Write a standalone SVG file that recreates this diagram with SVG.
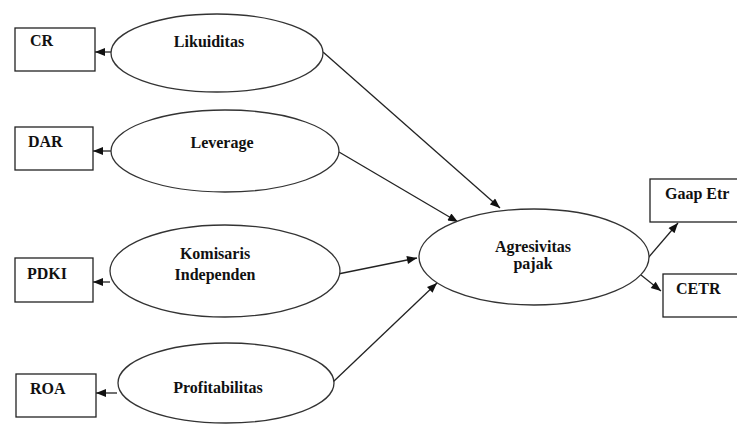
<svg xmlns="http://www.w3.org/2000/svg" width="737" height="425" viewBox="0 0 737 425">
<style>
.box{fill:#fff;stroke:#222;stroke-width:1.3}
.ell{fill:#fff;stroke:#333;stroke-width:1.3}
.t{font-family:"Liberation Serif","Times New Roman",serif;font-weight:bold;font-size:16px;fill:#111}
.c{stroke:#222;stroke-width:1.3;fill:none;marker-end:url(#ah)}
</style>
<defs>
<marker id="ah" viewBox="0 0 10 8" refX="10" refY="4" markerWidth="11" markerHeight="8" markerUnits="userSpaceOnUse" orient="auto">
<path d="M0,0 L10,4 L0,8 Z" fill="#111"/>
</marker>
</defs>
<rect width="737" height="425" fill="#fff"/>
<g id="connectors">
<line class="c" x1="111" y1="52" x2="95" y2="52"/>
<line class="c" x1="111" y1="151" x2="93" y2="151"/>
<line class="c" x1="110" y1="282" x2="93" y2="282"/>
<line class="c" x1="117" y1="393" x2="96" y2="393"/>
<line class="c" x1="323" y1="52" x2="500" y2="208"/>
<line class="c" x1="339" y1="152" x2="458" y2="222"/>
<line class="c" x1="338" y1="274" x2="417" y2="258"/>
<line class="c" x1="333" y1="382" x2="437" y2="283"/>
<line class="c" x1="648" y1="258" x2="678" y2="223"/>
<line class="c" x1="641" y1="275" x2="661" y2="291"/>
</g>
<g id="CR"><rect class="box" x="15" y="28" width="80" height="43"/><text class="t" x="30" y="46">CR</text></g>
<g id="DAR"><rect class="box" x="15" y="127" width="78" height="43"/><text class="t" x="28" y="147">DAR</text></g>
<g id="PDKI"><rect class="box" x="15" y="258" width="78" height="44"/><text class="t" x="27" y="279">PDKI</text></g>
<g id="ROA"><rect class="box" x="16" y="374" width="80" height="43"/><text class="t" x="30" y="394">ROA</text></g>
<g id="Likuiditas"><ellipse class="ell" cx="217" cy="53" rx="106" ry="39"/><text class="t" x="209" y="47" text-anchor="middle">Likuiditas</text></g>
<g id="Leverage"><ellipse class="ell" cx="225" cy="151" rx="114" ry="41"/><text class="t" x="222" y="148" text-anchor="middle">Leverage</text></g>
<g id="Komisaris"><ellipse class="ell" cx="225" cy="271" rx="115" ry="46"/><text class="t" x="215" y="259" text-anchor="middle">Komisaris</text><text class="t" x="215" y="280" text-anchor="middle">Independen</text></g>
<g id="Profitabilitas"><ellipse class="ell" cx="226" cy="383" rx="108" ry="40"/><text class="t" x="218" y="393" text-anchor="middle">Profitabilitas</text></g>
<g id="Agresivitas"><ellipse class="ell" cx="534" cy="257" rx="115" ry="48"/><text class="t" x="533" y="252" text-anchor="middle">Agresivitas</text><text class="t" x="533" y="269" text-anchor="middle">pajak</text></g>
<g id="GaapEtr"><rect class="box" x="650" y="179" width="92" height="43"/><text class="t" x="665" y="199">Gaap Etr</text></g>
<g id="CETR"><rect class="box" x="663" y="274" width="80" height="43"/><text class="t" x="676" y="294">CETR</text></g>
</svg>
